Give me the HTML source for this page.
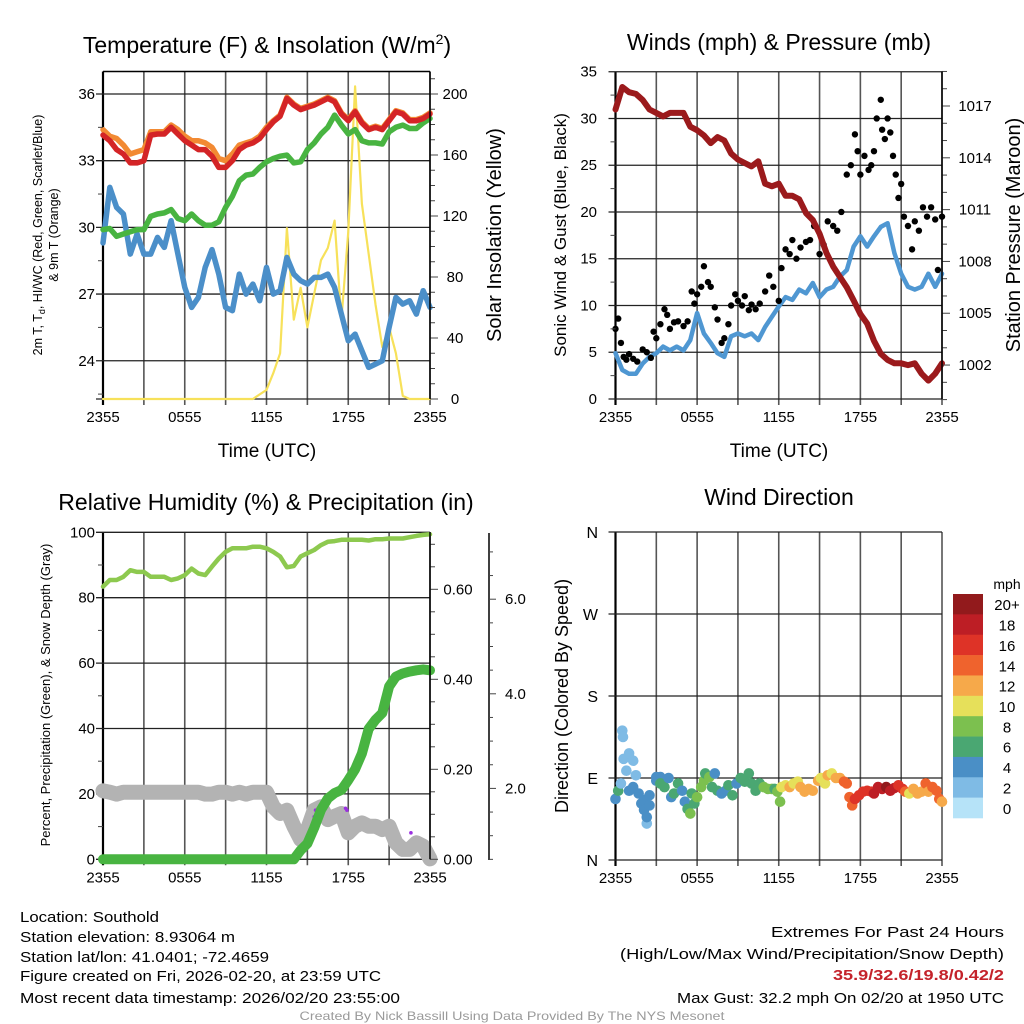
<!DOCTYPE html>
<html><head><meta charset="utf-8"><title>Southhold weather station charts</title>
<style>
html,body{margin:0;padding:0;background:#fff;}
svg{display:block;font-family:"Liberation Sans",Arial,sans-serif;}
</style></head>
<body>
<svg id="chart" width="1024" height="1024" viewBox="0 0 1024 1024" xmlns="http://www.w3.org/2000/svg">
<rect x="0" y="0" width="1024" height="1024" fill="#fff"/>
<g id="grids"></g>
<g id="marks"></g>
<g id="axes"></g>
<!-- titles -->
<text x="267" y="53" font-size="23" text-anchor="middle">Temperature (F) &amp; Insolation (W/m<tspan dy="-9" font-size="14">2</tspan><tspan dy="9">)</tspan></text>
<text x="779" y="50" font-size="23" text-anchor="middle">Winds (mph) &amp; Pressure (mb)</text>
<text x="266" y="510" font-size="23" text-anchor="middle">Relative Humidity (%) &amp; Precipitation (in)</text>
<text x="779" y="505" font-size="23" text-anchor="middle">Wind Direction</text>
<!-- axis titles -->
<text x="267" y="457" font-size="19" text-anchor="middle">Time (UTC)</text>
<text x="779" y="457" font-size="19" text-anchor="middle">Time (UTC)</text>
<text transform="translate(42,235) rotate(-90)" font-size="12.5" text-anchor="middle">2m T, T<tspan dy="3" font-size="9">d</tspan><tspan dy="-3">, HI/WC (Red, Green, Scarlet/Blue)</tspan></text>
<text transform="translate(58,235) rotate(-90)" font-size="12.5" text-anchor="middle">&amp; 9m T (Orange)</text>
<text transform="translate(501,235) rotate(-90)" font-size="20" text-anchor="middle">Solar Insolation (Yellow)</text>
<text transform="translate(566,235) rotate(-90)" font-size="17" text-anchor="middle">Sonic Wind &amp; Gust (Blue, Black)</text>
<text transform="translate(1020,235) rotate(-90)" font-size="20" text-anchor="middle">Station Pressure (Maroon)</text>
<text transform="translate(50,695) rotate(-90)" font-size="13" text-anchor="middle">Percent, Precipitation (Green), &amp; Snow Depth (Gray)</text>
<text transform="translate(568,696) rotate(-90)" font-size="18" text-anchor="middle">Direction (Colored By Speed)</text>
<!-- footer -->
<g font-size="14.5">
<text x="20" y="922" textLength="139" lengthAdjust="spacingAndGlyphs">Location: Southold</text>
<text x="20" y="942" textLength="215" lengthAdjust="spacingAndGlyphs">Station elevation: 8.93064 m</text>
<text x="20" y="962" textLength="249" lengthAdjust="spacingAndGlyphs">Station lat/lon: 41.0401; -72.4659</text>
<text x="20" y="981" textLength="361" lengthAdjust="spacingAndGlyphs">Figure created on Fri, 2026-02-20, at 23:59 UTC</text>
<text x="20" y="1003" textLength="380" lengthAdjust="spacingAndGlyphs">Most recent data timestamp: 2026/02/20 23:55:00</text>
</g>
<g font-size="14.5" text-anchor="end">
<text x="1004" y="937" textLength="233" lengthAdjust="spacingAndGlyphs">Extremes For Past 24 Hours</text>
<text x="1004" y="959" textLength="384" lengthAdjust="spacingAndGlyphs">(High/Low/Max Wind/Precipitation/Snow Depth)</text>
<text x="1004" y="980" fill="#c4232b" font-weight="bold" textLength="171" lengthAdjust="spacingAndGlyphs">35.9/32.6/19.8/0.42/2</text>
<text x="1004" y="1003" textLength="327" lengthAdjust="spacingAndGlyphs">Max Gust: 32.2 mph On 02/20 at 1950 UTC</text>
</g>
<text x="512" y="1020" font-size="12" fill="#9a9a9a" text-anchor="middle" textLength="425" lengthAdjust="spacingAndGlyphs">Created By Nick Bassill Using Data Provided By The NYS Mesonet</text>
</svg>
<script>
// ---------- data ----------
const timeLabels = ["2355","0555","1155","1755","2355"];
const hours = [0,0.5,1,1.5,2,2.5,3,3.5,4,4.5,5,5.5,6,6.5,7,7.5,8,8.5,9,9.5,10,10.5,11,11.5,12,12.5,13,13.5,14,14.5,15,15.5,16,16.5,17,17.5,18,18.5,19,19.5,20,20.5,21,21.5,22,22.5,23,23.5,24];
const tempRed = [34.15,33.9,33.5,33.3,32.9,32.9,33.0,34.15,34.2,34.2,34.5,34.2,33.9,33.7,33.5,33.5,33.2,32.7,32.7,33.0,33.5,33.7,33.8,34.0,34.4,34.75,35.0,35.8,35.5,35.3,35.4,35.5,35.65,35.8,35.65,35.1,34.8,35.2,34.7,34.4,34.5,34.4,34.8,35.2,35.1,34.8,34.8,34.9,35.1];
const temp9m = [34.4,34.1,34.0,33.7,33.3,33.4,33.5,34.3,34.3,34.3,34.6,34.4,34.1,33.9,33.9,33.8,33.6,33.1,33.0,33.3,33.7,33.8,33.9,34.1,34.5,34.8,35.05,35.85,35.55,35.35,35.45,35.55,35.7,35.85,35.7,35.15,34.85,35.25,34.75,34.45,34.55,34.45,34.85,35.25,35.15,34.85,34.85,34.95,35.15];
const dewpoint = [29.9,29.95,29.6,29.7,29.8,29.9,29.9,30.5,30.6,30.65,30.8,30.4,30.3,30.6,30.3,30.1,30.1,30.25,30.9,31.4,32.1,32.35,32.4,32.7,32.95,33.1,33.2,33.25,32.9,32.95,33.5,33.8,34.2,34.5,35.05,34.6,34.2,34.4,33.9,33.8,33.8,33.75,34.3,34.5,34.6,34.45,34.45,34.7,34.9];
const windChill = [29.3,31.8,30.9,30.6,28.8,29.7,28.8,28.8,29.55,29.1,30.3,28.8,27.3,26.4,26.85,28.2,29.0,27.9,26.4,26.25,27.9,27.0,27.45,26.7,28.2,27.0,27.15,28.65,27.9,27.6,27.45,27.75,27.75,27.9,27.3,26.1,24.9,25.2,24.45,23.7,23.85,24.0,25.5,26.85,26.55,26.7,26.1,27.15,26.4];
const solar = [0,0,0,0,0,0,0,0,0,0,0,0,0,0,0,0,0,0,0,0,0,0,0,3,6,17,30,112,52,73,47,69,91,99,117,52,110,205,128,95,62,34,47,30,2,0,0,0,0];
const pressure = [1016.8,1018.1,1017.8,1017.7,1017.35,1016.8,1016.6,1016.4,1016.6,1016.6,1016.6,1015.8,1015.6,1015.3,1014.85,1015.2,1015.0,1014.25,1013.9,1013.7,1013.5,1013.8,1012.5,1012.35,1012.5,1011.8,1011.8,1011.6,1010.8,1010.4,1009.6,1008.5,1007.7,1007.1,1006.5,1005.75,1004.95,1004.4,1003.4,1002.65,1002.3,1002.1,1002.1,1002.0,1002.1,1001.5,1001.1,1001.5,1002.1];
const windSpeed = [4.9,3.1,2.7,2.7,3.8,4.5,4.9,5.6,5.2,5.6,5.2,6.3,9.2,7.0,6.0,4.9,4.5,6.7,7.0,6.7,7.0,6.3,7.7,8.8,9.9,10.9,10.6,11.7,11.3,12.4,10.9,11.7,12.0,13.1,13.8,16.3,17.4,16.3,17.4,18.4,18.8,15.6,13.4,12.0,11.7,12.0,13.4,12.0,13.4];
const gustHours = [0,0.2,0.4,0.6,0.8,1,1.3,1.6,2,2.3,2.6,2.8,3,3.3,3.6,3.8,4,4.3,4.6,5,5.3,5.6,5.8,6,6.3,6.5,6.8,7,7.3,7.5,7.8,8,8.3,8.5,8.8,9,9.3,9.5,9.8,10,10.3,10.6,11,11.3,11.6,12,12.2,12.5,12.8,13,13.3,13.6,14,14.3,14.6,15,15.3,15.6,16,16.3,16.6,17,17.3,17.6,17.8,18,18.3,18.6,18.8,19,19.2,19.5,19.6,19.8,20,20.2,20.4,20.6,20.8,21,21.2,21.5,21.8,22,22.3,22.6,22.9,23.2,23.5,23.7,24];
const gustValues = [7.5,8.6,6,4.5,4.2,4.8,4.3,4,5.3,5.0,4.4,7.2,6.5,8,9.6,9,7.5,8.2,8.3,7.8,8.3,11.5,10.2,11.2,12.0,14.2,12.5,12.0,9.8,8.5,6,6.5,8,10,11.2,10.5,10,11,9.5,10.1,9.6,10.2,11.5,13.2,12,10.5,14,16,15.5,17,15,16.2,16.8,17,18.5,15.5,16.5,19,18.5,18,20,24,25,28.3,26.5,24,26,24.5,25,26.5,30,32,28.8,27.8,30.0,28.5,26,24,21.5,23,19.5,18.5,16,19,18,20.5,19.5,20.5,19.2,13.8,19.5];
const humidity = [83.4,85.4,85.4,86.4,88.4,87.9,87.9,86.4,86.4,86.4,85.4,85.9,86.9,88.9,87.4,86.9,89.5,92.0,94.0,95.1,95.1,95.1,95.6,95.6,95.1,94.0,92.6,89.3,89.7,92.6,93.6,94.6,96.1,97.1,97.3,97.7,97.7,97.7,97.7,97.5,97.9,97.9,98.1,98.1,98.1,98.5,98.9,99.2,99.4];
const precip = [0,0,0,0,0,0,0,0,0,0,0,0,0,0,0,0,0,0,0,0,0,0,0,0,0,0,0,0,0,0.02,0.035,0.07,0.11,0.135,0.147,0.154,0.176,0.2,0.235,0.29,0.31,0.325,0.384,0.406,0.413,0.417,0.42,0.422,0.42];
const snowDepth = [1.95,1.92,1.88,1.92,1.92,1.92,1.92,1.92,1.92,1.92,1.92,1.92,1.92,1.92,1.92,1.88,1.88,1.92,1.92,1.88,1.92,1.88,1.92,1.92,1.92,1.61,1.47,1.54,1.20,0.92,1.13,1.54,1.61,1.34,1.41,1.47,1.06,1.20,1.27,1.20,1.20,1.13,1.20,0.85,0.71,0.71,0.85,0.78,0.51];
const snowMarkHours = [15.5,15.6,17.8,17.9,22.6];
const snowMarkValues = [1.40,1.54,1.58,1.54,1.06];
const dirHours = [0,0.2,0.4,0.5,0.55,0.6,0.8,1.0,1.0,1.3,1.3,1.5,1.7,1.9,2.1,2.1,2.3,2.3,2.5,2.5,3,3,3.3,3.3,3.6,3.9,4.1,4.3,4.6,4.9,5.1,5.3,5.5,5.6,5.8,6,6.3,6.5,6.6,6.9,7.1,7.3,7.5,7.8,8.1,8.3,8.6,8.9,9.2,9.5,9.8,10,10.3,10.6,10.9,11.2,11.5,11.7,11.9,12.1,12.2,12.5,12.8,13.1,13.4,13.6,13.9,14.2,14.5,14.9,15.1,15.4,15.6,15.9,16.2,16.5,16.8,17,17.2,17.4,17.6,17.9,18.2,18.5,18.8,19,19.3,19.6,19.9,20.2,20.5,20.8,21.1,21.3,21.6,21.9,22.2,22.5,22.8,23,23.3,23.6,23.8,24];
const dirDegrees = [67,76,84,142,135,111,98,117,76,109,80,93,73,62,66,55,40,47,60,71,87,91,91,84,80,90,69,73,84,76,64,56,51,73,62,69,80,87,95,91,80,95,76,73,76,82,71,84,90,86,95,84,76,84,80,78,78,78,75,64,80,82,80,84,86,80,75,78,76,87,90,84,93,95,90,90,86,84,69,60,67,71,75,76,75,73,80,78,80,76,79,82,78,75,73,78,73,75,84,75,80,76,67,64];
const dirSpeeds = [4,6,2,2,2,2,2,2,4,2,4,2,4,4,4,4,2,4,4,4,4,4,4,6,6,4,4,6,6,4,4,6,8,6,6,8,8,8,6,8,6,4,6,4,4,6,6,4,6,6,6,6,6,6,8,8,8,6,8,8,10,10,12,10,10,12,12,12,12,12,10,10,12,10,12,12,14,14,14,14,16,16,16,16,16,18,18,18,20,18,18,16,16,14,10,12,12,12,14,12,14,14,14,12];
const speedBinLabels = ["0","2","4","6","8","10","12","14","16","18","20+"];
const speedBinColors = ["#b6e3f8","#7fbbe5","#4a8fc6","#4aa772","#7cc04f","#e6e05a","#f6a94a","#ef632d","#de3327","#bd1e25","#921a1c"];

// ---------- helpers ----------
const NS = "http://www.w3.org/2000/svg";
const gGrid = document.getElementById('grids');
const gMarks = document.getElementById('marks');
const gAxes = document.getElementById('axes');
function mk(tag, attrs, parent){
  const e = document.createElementNS(NS, tag);
  for (const k in attrs) e.setAttribute(k, attrs[k]);
  parent.appendChild(e);
  return e;
}
function txt(s, x, y, size, anchor, parent){
  const t = mk('text', {x:x, y:y, 'font-size':size, 'text-anchor':anchor}, parent);
  t.textContent = s;
  return t;
}
const X0L = 103, X1L = 430, X0R = 615.5, X1R = 942;
function xs(x0, x1){ return h => x0 + h/24*(x1-x0); }
const xL = xs(X0L, X1L), xR = xs(X0R, X1R);

function frame(x0, x1, y0, y1, name){
  for (let i=0;i<=8;i++){
    const x = x0 + i*(x1-x0)/8;
    const l = mk('line',{x1:x,x2:x,y1:y0,y2:y1+6,stroke:(i==0?'#000':'#555'),'stroke-width':(i==0?2.2:1.6)},gGrid);
    
    
  }
  for (let i=0;i<5;i++){
    const t = txt(timeLabels[i], x0 + i*(x1-x0)/4, y1+23, 15, 'middle', gAxes);
    
    
  }
}
function hgrid(x0, x1, y, name){
  const l = mk('line',{x1:x0-7,x2:x1,y1:y,y2:y,stroke:'#222','stroke-width':1.3},gGrid);
  
  
}
function tick(x, y, len, name){
  const l = mk('line',{x1:x,x2:x+len,y1:y,y2:y,stroke:'#444','stroke-width':1},gAxes);
  
  
}
function lineSeries(hs, vals, xf, yf, color, w, name){
  let d = '';
  hs.forEach((h,i)=>{ d += (i?'L':'M') + xf(h).toFixed(1) + ',' + yf(vals[i]).toFixed(1); });
  const p = mk('path',{d:d,fill:'none',stroke:color,'stroke-width':w,'stroke-linejoin':'round','stroke-linecap':'round'},gMarks);
  
  
  return p;
}

// ---------- panel 1: temperature ----------
const yT = v => 94 + (36 - v)*22.23;
const yS = v => 399 - v*1.525;
frame(X0L, X1L, 71.5, 399, 'temp');
[36,33,30,27,24].forEach(v=>{
  hgrid(X0L, X1L, yT(v), 'temp-hgrid');
  const t = txt(String(v), 95, yT(v)+5, 15, 'end', gAxes);
  
  
});
[34.5,31.5,28.5,25.5,22.5].forEach(v=>tick(X0L-5, yT(v), 5, 'temp-minor-tick'));
hgrid(X0L, X1L, 399, 'temp-bottom-line');
for (let v=0; v<=210; v+=10){
  const major = v%40===0;
  tick(X1L, yS(v), major?8:5, 'solar-tick');
  if (major){
    const t = txt(String(v), 455, yS(v)+5, 15, 'middle', gAxes);
    
    
  }
}
mk('line',{x1:X1L,x2:X1L,y1:71.5,y2:399,stroke:'#000','stroke-width':1.5},gAxes);
mk('line',{x1:X0L,x2:X1L,y1:71.5,y2:71.5,stroke:'#000','stroke-width':1.5},gAxes);
lineSeries(hours, solar, xL, yS, '#f7e15a', 2.2, 'solar-line');
lineSeries(hours, windChill, xL, yT, '#4b8fc9', 5.5, 'windchill-line');
lineSeries(hours, dewpoint, xL, yT, '#48b441', 5.5, 'dewpoint-line');
lineSeries(hours, temp9m, xL, yT, '#f28a33', 5.5, 'temp-9m-line');
lineSeries(hours, tempRed, xL, yT, '#d42426', 5.5, 'temp-2m-line');

// ---------- panel 2: winds ----------
const yW = v => 399 - v*9.351;
const yP = v => 106 + (1017 - v)*17.27;
frame(X0R, X1R, 71.5, 399, 'winds');
[35,30,25,20,15,10,5,0].forEach(v=>{
  hgrid(X0R, X1R, yW(v), 'winds-hgrid');
  const t = txt(String(v), 597, yW(v)+5, 15, 'end', gAxes);
  
  
});
[32.5,27.5,22.5,17.5,12.5,7.5,2.5].forEach(v=>tick(X0R-5, yW(v), 5, 'wind-minor-tick'));
for (let v=1000; v<=1019; v++){
  const major = (v-1002)%3===0;
  tick(X1R, yP(v), major?8:5, 'pressure-tick');
  if (major){
    const t = txt(String(v), 975, yP(v)+5, 15, 'middle', gAxes);
    
    
  }
}
mk('line',{x1:X1R,x2:X1R,y1:71.5,y2:399,stroke:'#000','stroke-width':1.5},gAxes);
lineSeries(hours, windSpeed, xR, yW, '#4f97d2', 4.5, 'wind-speed-line');
gustHours.forEach((h,i)=>{
  const c = mk('circle',{cx:xR(h),cy:yW(gustValues[i]),r:3.2,fill:'#000'},gMarks);
  
  
});
lineSeries(hours, pressure, xR, yP, '#9b1a1c', 6, 'pressure-line');

// ---------- panel 3: humidity / precip ----------
const yH = v => 859.3 - v*3.27;
const yPr = v => 859.3 - v*450;
const ySn = v => 883 - v*47.3;
frame(X0L, X1L, 532, 859.3, 'humidity');
[100,80,60,40,20,0].forEach(v=>{
  hgrid(X0L, X1L, yH(v), 'humidity-hgrid');
  const t = txt(String(v), 95, yH(v)+5, 15, 'end', gAxes);
  
  
});
[90,70,50,30,10].forEach(v=>tick(X0L-5, yH(v), 5, 'humidity-minor-tick'));
for (let i=0;i<=14;i++){
  const v = i*0.05;
  const major = i%4===0;
  tick(X1L, yPr(v), major?8:5, 'precip-tick');
  if (major){
    const t = txt(v.toFixed(2), 458, yPr(v)+5, 15, 'middle', gAxes);
    
    
  }
}
mk('line',{x1:X1L,x2:X1L,y1:532,y2:859.3,stroke:'#000','stroke-width':1.5},gAxes);
mk('line',{x1:489,x2:489,y1:533,y2:860,stroke:'#000','stroke-width':1.5,},gAxes);
for (let i=1;i<=14;i++){
  const v = i*0.5;
  const major = i%4===0;
  tick(489, ySn(v), major?7:4, 'snow-tick');
  if (major){
    const t = txt(v.toFixed(1), 505, ySn(v)+5, 15, 'start', gAxes);
    
    
  }
}
lineSeries(hours, snowDepth, xL, ySn, '#b3b3b3', 15, 'snow-depth-line');
snowMarkHours.forEach((h,i)=>{
  const c = mk('circle',{cx:xL(h),cy:ySn(snowMarkValues[i]),r:1.8,fill:'#9b30e0'},gMarks);
  
  
});
lineSeries(hours, precip, xL, yPr, '#48b441', 10, 'precip-line');
lineSeries(hours, humidity, xL, yH, '#8dc94f', 4.5, 'humidity-line');

// ---------- panel 4: wind direction ----------
const yD = d => 860 - d*(328/360);
frame(X0R, X1R, 532, 860, 'direction');
const dirLabels = ['N','E','S','W','N'];
[0,90,180,270,360].forEach((d,i)=>{
  hgrid(X0R, X1R, yD(d), 'direction-hgrid');
  const t = txt(dirLabels[i], 598, yD(d)+6, 16, 'end', gAxes);
  
  
});
function binColor(s){ return speedBinColors[Math.min(10, Math.max(0, Math.floor(s/2)))]; }
dirHours.forEach((h,i)=>{
  const c = mk('circle',{cx:xR(h),cy:yD(dirDegrees[i]),r:5.3,fill:binColor(dirSpeeds[i])},gMarks);
  
  
});
// colorbar
const cbTop = 594, cbBin = (818-594)/11;
const mph = txt('mph', 1007, 589, 14, 'middle', gAxes);


speedBinLabels.forEach((lab,i)=>{
  const k = 10 - i;
  const y = cbTop + i*cbBin;
  const r = mk('rect',{x:953,y:y,width:30,height:cbBin+0.3,fill:speedBinColors[k]},gAxes);
  
  
  const t = txt(speedBinLabels[k], 1007, y+cbBin/2+6, 15, 'middle', gAxes);
  
  
});
</script>
</body></html>
